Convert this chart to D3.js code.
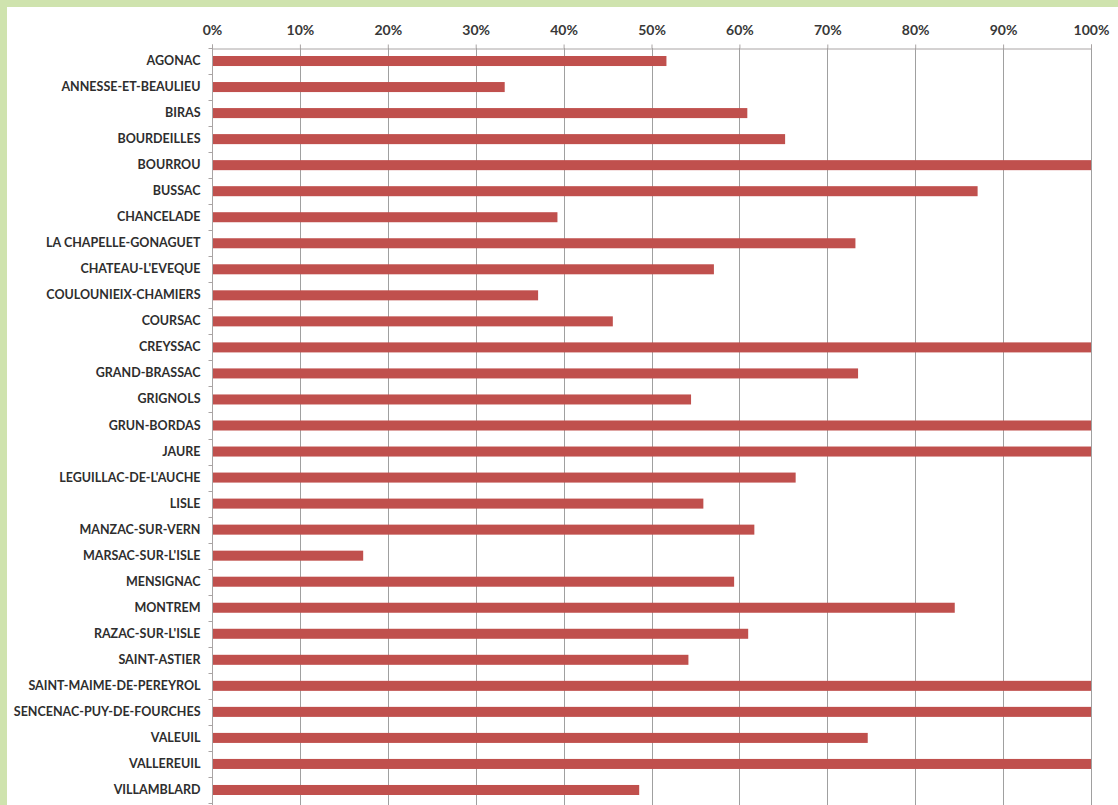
<!DOCTYPE html>
<html lang="en">
    <head>
        <meta charset="utf-8">
        <title>Communes</title>
        <script src="https://d3js.org/d3.v7.min.js"></script>
        <style>
            body {
                margin: 0;
                background-color: #cfe3ae;
            }
            .axis path,
            .axis line {
                fill: none;
                stroke: #a9a4a4;
            }
            .x.axis text {
                font-family: Lato, sans-serif;
                font-weight: bold;
                font-size: 14px;
                fill: #383838;
            }
            .y.axis text {
                font-family: Lato, sans-serif;
                font-weight: bold;
                font-size: 12.5px;
                fill: #2e2e2e;
            }
            .grid line {
                stroke: #a0a0a0;
                stroke-width: 1;
            }
        </style>
    </head>
    <body>
        <div id="chart"></div>
        <script type="text/javascript">
            // communes, top to bottom
            var communes = ["AGONAC","ANNESSE-ET-BEAULIEU","BIRAS","BOURDEILLES","BOURROU","BUSSAC","CHANCELADE",
                "LA CHAPELLE-GONAGUET","CHATEAU-L'EVEQUE","COULOUNIEIX-CHAMIERS","COURSAC","CREYSSAC","GRAND-BRASSAC",
                "GRIGNOLS","GRUN-BORDAS","JAURE","LEGUILLAC-DE-L'AUCHE","LISLE","MANZAC-SUR-VERN","MARSAC-SUR-L'ISLE",
                "MENSIGNAC","MONTREM","RAZAC-SUR-L'ISLE","SAINT-ASTIER","SAINT-MAIME-DE-PEREYROL",
                "SENCENAC-PUY-DE-FOURCHES","VALEUIL","VALLEREUIL","VILLAMBLARD"];
            // share in percent
            var shares = [51.7,33.3,60.9,65.2,100,87.1,39.3,
                73.2,57.1,37.1,45.6,100,73.5,
                54.5,100,100,66.4,55.9,61.7,17.2,
                59.4,84.5,61.0,54.2,100,
                100,74.6,100,48.6];
            var tickValues = [0,10,20,30,40,50,60,70,80,90,100];

            var w = 1118;
            var h = 805;

            var svg = d3.select("#chart").append("svg").attr("width",w).attr("height",h);

            // white panel on the green frame
            svg.append("rect").attr("x",7).attr("y",7).attr("width",w-7).attr("height",h-7).attr("fill","white");

            var xScale = d3.scaleLinear().domain([0,100]).range([212,1091]);
            var yScale = d3.scaleBand().domain(communes).range([48,803]).paddingInner(0.615).paddingOuter(0.3075);
            var step = yScale.step();

            // vertical gridlines
            svg.append("g").attr("class","grid").selectAll("line").data(tickValues.slice(1)).enter()
                .append("line")
                .attr("x1",function(d) { return Math.round(xScale(d))+0.5; })
                .attr("x2",function(d) { return Math.round(xScale(d))+0.5; })
                .attr("y1",48).attr("y2",h);

            // bars
            svg.selectAll("rect.bar").data(communes).enter().append("rect").attr("class","bar")
                .attr("x",xScale(0))
                .attr("y",function(d) { return yScale(d); })
                .attr("width",function(d,i) { return xScale(shares[i]) - xScale(0); })
                .attr("height",yScale.bandwidth())
                .attr("fill","#c0504d");

            // top axis
            var xAxis = d3.axisTop(xScale).tickValues(tickValues).tickSize(4).tickPadding(10)
                .tickFormat(function(d) { return d+"%"; });
            svg.append("g").attr("class","x axis").attr("transform","translate(0,48.5)").call(xAxis);

            // left axis, ticks sit between categories
            var yAxis = d3.axisLeft(yScale).tickSize(0).tickPadding(12);
            var yg = svg.append("g").attr("class","y axis").attr("transform","translate(212.5,0)").call(yAxis);
            yg.select(".domain").remove();
            yg.append("line").attr("x1",0).attr("x2",0).attr("y1",48).attr("y2",h).attr("stroke","#a9a4a4");
            yg.selectAll("line.sep").data(d3.range(communes.length+1)).enter().append("line").attr("class","sep")
                .attr("x1",-4).attr("x2",0)
                .attr("y1",function(d) { return Math.round(48+d*step)+0.5; })
                .attr("y2",function(d) { return Math.round(48+d*step)+0.5; })
                .attr("stroke","#a9a4a4");
        </script>
    </body>
</html>
